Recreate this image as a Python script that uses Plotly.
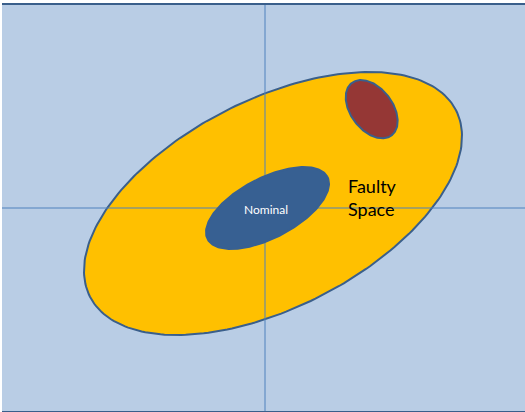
import numpy as np
import plotly.graph_objects as go

# Regions (ellipses) in chart units: origin at the crosshair, y up
region_names = ["Faulty Space", "Nominal", "Fault"]
center_x = [8.0, 2.5, 106.7]
center_y = [4.5, 0.0, 98.8]
semi_major = [205.4, 67.5, 32.9]
semi_minor = [104.1, 30.1, 21.0]
tilt_deg = [27.0, 27.4, -52.9]

x_range = [-263, 260]
y_range = [-203, 203]

fills = ["#ffc000", "#376092", "#953735"]
outline = "#3a5f8b"
axis_col = "#4f81bd"


def ellipse(cx, cy, a, b, deg, n=241):
    t = np.linspace(0, 2 * np.pi, n)
    th = np.deg2rad(deg)
    x = cx + a * np.cos(t) * np.cos(th) - b * np.sin(t) * np.sin(th)
    y = cy + a * np.cos(t) * np.sin(th) + b * np.sin(t) * np.cos(th)
    return x, y


fig = go.Figure()

# big yellow region first
x, y = ellipse(center_x[0], center_y[0], semi_major[0], semi_minor[0], tilt_deg[0])
fig.add_trace(go.Scatter(x=x, y=y, mode="lines", fill="toself", fillcolor=fills[0],
                         line=dict(color=outline, width=2), hoverinfo="skip",
                         name=region_names[0]))

# crosshair axes (above yellow, below nominal)
fig.add_trace(go.Scatter(x=[0, 0], y=y_range, mode="lines",
                         line=dict(color=axis_col, width=1), hoverinfo="skip"))
fig.add_trace(go.Scatter(x=x_range, y=[0, 0], mode="lines",
                         line=dict(color=axis_col, width=1), hoverinfo="skip"))

for i in [1, 2]:
    x, y = ellipse(center_x[i], center_y[i], semi_major[i], semi_minor[i], tilt_deg[i])
    fig.add_trace(go.Scatter(x=x, y=y, mode="lines", fill="toself", fillcolor=fills[i],
                             line=dict(color=outline if i == 2 else fills[i], width=2),
                             hoverinfo="skip", name=region_names[i]))

fig.add_annotation(x=center_x[1] - 1.5, y=center_y[1] - 1, text="Nominal", showarrow=False,
                   font=dict(family="Lato", size=12, color="#ffffff"),
                   xanchor="center", yanchor="middle")
fig.add_annotation(x=107.5, y=11, text="Faulty<br>Space", showarrow=False,
                   font=dict(family="Lato", size=18, color="#000000"),
                   xanchor="center", yanchor="middle", align="left")

fig.update_layout(
    width=525, height=412,
    margin=dict(l=2, r=0, t=5, b=1),
    paper_bgcolor="#ffffff",
    plot_bgcolor="#b9cde5",
    showlegend=False,
    xaxis=dict(range=x_range, showgrid=False, zeroline=False, showticklabels=False,
               ticks="", showline=True, mirror=True, linecolor="#3a5f8b", linewidth=2,
               fixedrange=True),
    yaxis=dict(range=y_range, showgrid=False, zeroline=False, showticklabels=False,
               ticks="", showline=False, fixedrange=True),
)

fig.write_html("out.html", config={"displayModeBar": False},
               post_script="document.body.style.margin='0';document.body.style.padding='0';")
